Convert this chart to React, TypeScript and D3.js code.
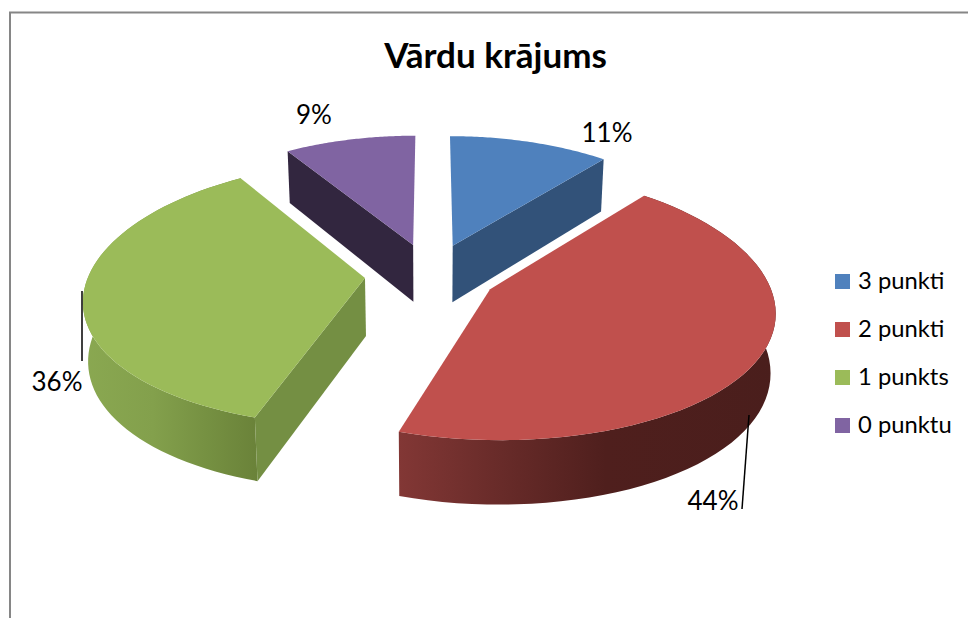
import * as d3 from "d3";

const categories = ["3 punkti", "2 punkti", "1 punkts", "0 punktu"];
const values = [11, 44, 36, 9];
const labels = ["11%", "44%", "36%", "9%"];

const TOP = ["#4f81bd", "#c0504d", "#9bbb59", "#8064a2"];
const SIDE = ["#325279", "#7d3331", "#748f43", "#32263f"];
const WALL_STOPS = [
  [[0, "#4a76ad"], [1, "#345680"]],
  [[0, "#823735"], [0.25, "#6a2c2a"], [0.55, "#4f1f1d"], [1, "#4a1e1c"]],
  [[0, "#8aa851"], [0.4, "#83a04c"], [0.7, "#769142"], [1, "#6a8239"]],
  [[0, "#32263f"], [1, "#32263f"]],
];

const W = 968;
const H = 618;
const FONT = "Lato, 'Open Sans', sans-serif";

// fake 3d: pie lies on a plane, far side is squeezed by perspective
const cx = 431;
const cy = 274;
const sx = 276;
const sy = 129;
const explode = 0.24;

const project = (X: number, Y: number, bottom = false): [number, number] => {
  const px = 1 - 0.15 * Y + 0.02 * Y * Y;
  const py = 1 / (1 + 0.12 * Y);
  const x = cx + sx * X * px * (bottom ? 0.985 : 1);
  const y = cy - sy * Y * py + (bottom ? 58 * (1 - 0.1 * Y) : 0);
  return [x, y];
};

const arcs = d3.pie<number>().sort(null).startAngle(0).endAngle(2 * Math.PI)(values);
const line = d3.line();

type Slice = {
  top: string;
  walls: string[];
  outer: string | null;
  x0: number;
  x1: number;
};

const slices: Slice[] = arcs.map((a) => {
  const mid = (a.startAngle + a.endAngle) / 2;
  const ox = Math.sin(mid) * explode;
  const oy = Math.cos(mid) * explode;
  const angles = d3.range(0, 61).map((i) => a.startAngle + ((a.endAngle - a.startAngle) * i) / 60);
  const rim = (bottom: boolean) =>
    angles.map((t) => project(ox + Math.sin(t), oy + Math.cos(t), bottom));
  const topRim = rim(false);
  const botRim = rim(true);
  const apex = project(ox, oy);
  const apexB = project(ox, oy, true);
  const c = topRim[30];
  // a cut face shows only if the top face sits above its edge
  const visible = (i: number) => {
    const e = topRim[i];
    if (Math.abs(e[0] - apex[0]) < 3) return false;
    const yAt = apex[1] + ((e[1] - apex[1]) * (c[0] - apex[0])) / (e[0] - apex[0]);
    return c[1] < yAt;
  };
  const wall = (i: number) => line([apex, topRim[i], botRim[i], apexB])! + "Z";
  const all = topRim.concat(botRim).map((d) => d[0]);
  return {
    top: line([apex, ...topRim])! + "Z",
    walls: [0, 60].filter(visible).map(wall),
    // rim of the far slices faces away
    outer: Math.cos(mid) > 0 ? null : line([...topRim, ...botRim.slice().reverse()])! + "Z",
    x0: d3.min(all)!,
    x1: d3.max(all)!,
  };
});

// back slices first
const order = [3, 0, 2, 1];

export default function App() {
  return (
    <svg
      width={W}
      height={H}
      viewBox={`0 0 ${W} ${H}`}
      style={{ position: "absolute", left: 0, top: 0, display: "block", background: "#fff" }}
    >
      <defs>
        {slices.map((s, i) => (
          <linearGradient key={i} id={`wall${i}`} gradientUnits="userSpaceOnUse" x1={s.x0} x2={s.x1} y1={0} y2={0}>
            {WALL_STOPS[i].map((st, j) => (
              <stop key={j} offset={st[0] as number} stopColor={st[1] as string} />
            ))}
          </linearGradient>
        ))}
      </defs>

      <path d="M10,618V12.5H968" fill="none" stroke="#868686" strokeWidth={2} />

      <text x={495.5} y={68} textAnchor="middle" fontFamily={FONT} fontWeight={700} fontSize={35} fill="#000">
        Vārdu krājums
      </text>

      {order.map((i) => (
        <g key={i}>
          {slices[i].outer && <path d={slices[i].outer!} fill={`url(#wall${i})`} />}
          {slices[i].walls.map((d, j) => (
            <path key={j} d={d} fill={SIDE[i]} />
          ))}
          <path d={slices[i].top} fill={TOP[i]} />
        </g>
      ))}

      <line x1={82} y1={291} x2={82} y2={361} stroke="#000" strokeWidth={1.5} />
      <line x1={749} y1={415} x2={742} y2={509} stroke="#000" strokeWidth={1.5} />

      <g fontFamily={FONT} fontSize={26} fill="#000">
        <text x={607} y={142} textAnchor="middle">{labels[0]}</text>
        <text x={713} y={510} textAnchor="middle">{labels[1]}</text>
        <text x={57} y={391} textAnchor="middle">{labels[2]}</text>
        <text x={314} y={124} textAnchor="middle">{labels[3]}</text>
      </g>

      {categories.map((c, i) => (
        <g key={c} transform={`translate(835,${274 + i * 48})`}>
          <rect width={15} height={15} fill={TOP[i]} />
          <text x={23} y={15} fontFamily={FONT} fontSize={23.8} fill="#000">{c}</text>
        </g>
      ))}
    </svg>
  );
}
